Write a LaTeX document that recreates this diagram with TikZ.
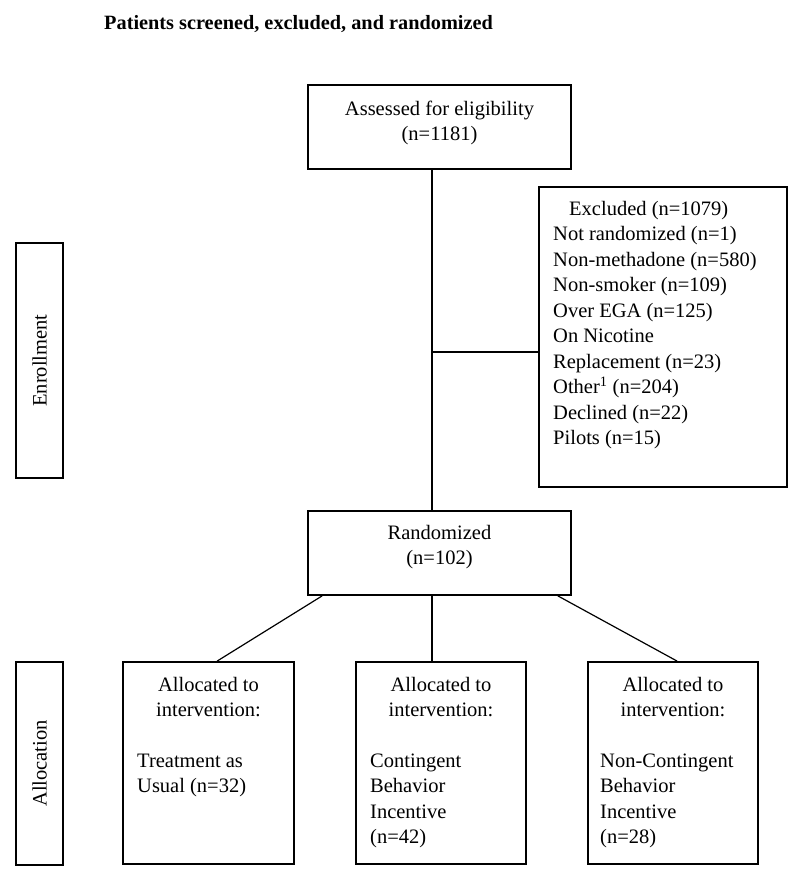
\documentclass[tikz,border=0pt]{standalone}
\usepackage{fontspec}
\setmainfont{Liberation Serif}
\begin{document}
\begin{tikzpicture}[x=1pt,y=-1pt,
  box/.style={draw, line width=1.8pt, rectangle, inner sep=0pt},
  conn/.style={draw, line width=1.2pt},
  txt/.style={inner sep=0pt, font=\fontsize{20.5}{25.5}\selectfont},
  ctxt/.style={txt, align=center, anchor=north},
  ltxt/.style={txt, align=left, anchor=north west},
  side/.style={txt, rotate=90},
]
\useasboundingbox (0,0) rectangle (800,876);

% title
\node[txt, font=\fontsize{20.3}{24}\selectfont\bfseries, anchor=base west] (title) at (104,29) {Patients screened, excluded, and randomized};

% boxes
\node[box, minimum width=263pt, minimum height=84pt] (assess) at (439.5,127) {};
\node[box, minimum width=248pt, minimum height=300pt] (excl) at (663,337) {};
\node[box, minimum width=263pt, minimum height=84pt] (rand) at (439.5,553) {};
\node[box, minimum width=47pt, minimum height=235pt] (enr) at (39.5,360.5) {};
\node[box, minimum width=47pt, minimum height=203pt] (alloc) at (39.5,763.5) {};
\node[box, minimum width=171pt, minimum height=202pt] (tau) at (208.5,763) {};
\node[box, minimum width=170pt, minimum height=202pt] (cbi) at (441,763) {};
\node[box, minimum width=170pt, minimum height=202pt] (ncb) at (673,763) {};

% texts
\node[ctxt] (assesst) at (439.5,100) {\rule{0pt}{15pt}Assessed for eligibility\\(n=1181)};
\node[ctxt] (randt) at (439.5,524) {\rule{0pt}{15pt}Randomized\\(n=102)};
\node[ltxt] (exclt) at (553,200) {\rule{0pt}{15pt}\hspace*{16pt}Excluded (n=1079)\\
Not randomized (n=1)\\
Non-methadone (n=580)\\
Non-smoker (n=109)\\
Over EGA (n=125)\\
On Nicotine\\
Replacement (n=23)\\
Other\textsuperscript{1} (n=204)\\
Declined (n=22)\\
Pilots (n=15)};
\node[side] (enrt) at (enr.center) {Enrollment};
\node[side] (alloct) at (alloc.center) {Allocation};

\node[ctxt] (taut) at (208.5,676) {\rule{0pt}{15pt}Allocated to\\intervention:};
\node[ltxt] (taub) at (137,752) {\rule{0pt}{15pt}Treatment as\\Usual (n=32)};
\node[ctxt] (cbit) at (441,676) {\rule{0pt}{15pt}Allocated to\\intervention:};
\node[ltxt] (cbib) at (370,752) {\rule{0pt}{15pt}Contingent\\Behavior\\Incentive\\(n=42)};
\node[ctxt] (ncbt) at (673,676) {\rule{0pt}{15pt}Allocated to\\intervention:};
\node[ltxt] (ncbb) at (600,752) {\rule{0pt}{15pt}Non-Contingent\\Behavior\\Incentive\\(n=28)};

% connectors
\coordinate (vx) at (432,0);
\coordinate (br) at (432,352);
\draw[conn] (assess.south -| vx) -- (rand.north -| vx);
\draw[conn] (br) -- (br -| excl.west);
\draw[conn] ([xshift=15pt]rand.south west) -- ([xshift=95pt]tau.north west);
\draw[conn] (rand.south -| vx) -- (cbi.north -| vx);
\draw[conn] ([xshift=-14pt]rand.south east) -- ([xshift=90pt]ncb.north west);
\end{tikzpicture}
\end{document}
